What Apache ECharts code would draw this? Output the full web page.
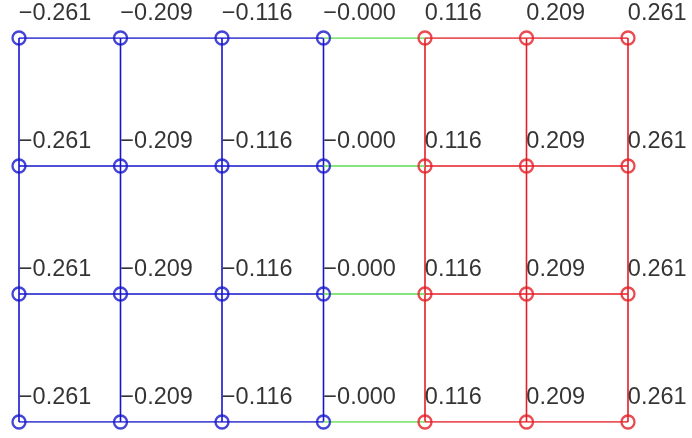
<!DOCTYPE html>
<html>
<head>
<meta charset="utf-8">
<style>
  html, body { margin: 0; padding: 0; background: #ffffff; }
  #chart { width: 692px; height: 438px; }
</style>
<script src="https://cdn.jsdelivr.net/npm/echarts@6/dist/echarts.min.js"></script>
</head>
<body>
<div id="chart"></div>
<script>
// Node values along each row (same for every row); -0 keeps its sign.
const nodeValues = [-0.261, -0.209, -0.116, -0.000, 0.116, 0.209, 0.261];
// Column and row indices of the lattice.
const columns = [0, 1, 2, 3, 4, 5, 6];
const rows = [0, 1, 2, 3];

const BLUE = '#1515cc';
const RED = '#e41e26';
const GREEN = '#5edc50';

function isNeg(v) { return v < 0 || Object.is(v, -0); }
function fmt(v) { return (isNeg(v) ? '\u2212' : '') + Math.abs(v).toFixed(3); }
function nodeColor(v) { return isNeg(v) ? BLUE : RED; }
function edgeColor(a, b) {
  if (isNeg(a) && isNeg(b)) return BLUE;
  if (!isNeg(a) && !isNeg(b)) return RED;
  return GREEN;
}

const series = [];

function segment(data, color) {
  series.push({
    type: 'line',
    data: data,
    symbol: 'none',
    silent: true,
    z: 1,
    lineStyle: { color: color, width: 1.6 }
  });
}

// Vertical edges: one per column spanning all rows.
columns.forEach(c => {
  segment(rows.map(r => [c, r]), nodeColor(nodeValues[c]));
});

// Horizontal edges between neighbouring nodes in each row.
rows.forEach(r => {
  for (let i = 0; i < columns.length - 1; i++) {
    segment([[columns[i], r], [columns[i + 1], r]],
            edgeColor(nodeValues[i], nodeValues[i + 1]));
  }
});

// Nodes as open circles with their value written above-right.
const nodes = [];
rows.forEach(r => {
  columns.forEach(c => {
    nodes.push({
      value: [c, r, nodeValues[c]],
      itemStyle: { borderColor: nodeColor(nodeValues[c]) }
    });
  });
});

series.push({
  type: 'scatter',
  data: nodes,
  symbol: 'circle',
  symbolSize: 13,
  z: 3,
  itemStyle: { color: 'transparent', borderWidth: 2.3 },
  label: {
    show: true,
    position: [7.5, -16.5],
    align: 'left',
    verticalAlign: 'middle',
    fontFamily: 'Liberation Sans',
    fontSize: 23.5,
    color: '#000000',
    formatter: p => fmt(p.value[2])
  }
});

const chart = echarts.init(document.getElementById('chart'));
chart.setOption({
  animation: false,
  backgroundColor: '#ffffff',
  grid: { left: 19, top: 38, width: 609, height: 384 },
  xAxis: { type: 'value', min: 0, max: 6, show: false },
  yAxis: { type: 'value', min: 0, max: 3, inverse: true, show: false },
  series: series
});
</script>
</body>
</html>
